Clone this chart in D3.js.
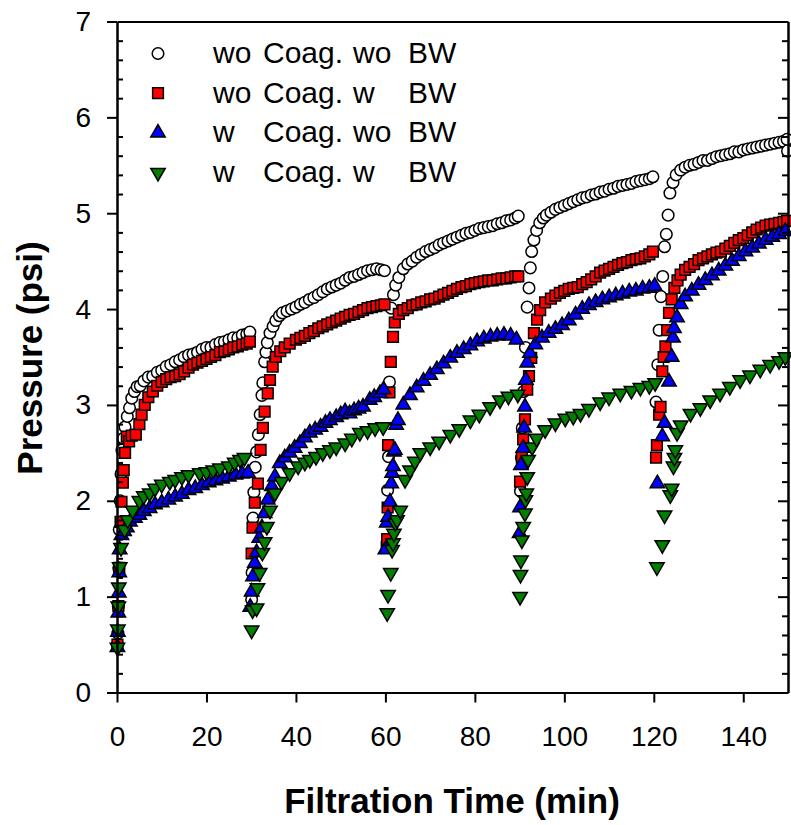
<!DOCTYPE html>
<html>
<head>
<meta charset="utf-8">
<script src="https://cdn.jsdelivr.net/npm/d3@7"></script>
<style>
body { margin: 0; background: #fff; }
text { font-family: "Liberation Sans", Arial, sans-serif; }
</style>
</head>
<body>
<svg id="chart" width="791" height="825"></svg>
<script>
// [time (min), pressure (psi)]
var woCoagWoBW = [
  [0.1,0.5],[0.2,0.62],[0.3,0.9],[0.4,1.3],[0.5,1.7],[0.7,2.0],[0.9,2.28],[1.1,2.53],[1.4,2.65],[1.8,2.77],[2.3,2.88],[2.8,2.97],[3.3,3.07],[3.9,3.14],[4.5,3.19],[5.2,3.2],[6,3.25],[7,3.29],[8,3.3],[9,3.34],[10,3.36],[11,3.4],[12,3.42],[13,3.45],[14,3.47],[15,3.5],[16,3.52],[17,3.53],[18,3.55],[19,3.58],[20,3.6],[21,3.6],[22,3.63],[23,3.65],[24,3.66],[25,3.68],[26,3.7],[27,3.7],[28,3.73],[29,3.74],[29.7,3.76],
  [30.1,0.97],[30.2,1.25],[30.4,1.82],[30.6,2.09],[30.9,2.35],[31.2,2.51],[31.6,2.69],[32,2.9],[32.4,3.1],[32.6,3.23],[33,3.45],[33.3,3.55],[33.6,3.65],[34.2,3.75],[34.9,3.82],[35.5,3.88],[36.3,3.93],[37,3.96],[38,3.98],[39,4.0],[40,4.02],[41,4.05],[42,4.07],[43,4.1],[44,4.12],[45,4.15],[46,4.18],[47,4.21],[48,4.23],[49,4.25],[50,4.27],[51,4.3],[52,4.33],[53,4.34],[54,4.36],[55,4.38],[56,4.4],[57,4.41],[58,4.42],[59,4.41],[59.8,4.4],
  [60.5,2.11],[60.7,2.46],[60.9,3.24],[61.3,4.01],[61.8,4.15],[62.3,4.25],[63,4.33],[64,4.42],[65,4.47],[66,4.5],[67,4.54],[68,4.57],[69,4.6],[70,4.62],[71,4.64],[72,4.67],[73,4.69],[74,4.71],[75,4.73],[76,4.75],[77,4.77],[78,4.79],[79,4.8],[80,4.82],[81,4.84],[82,4.85],[83,4.86],[84,4.87],[85,4.89],[86,4.9],[87,4.92],[88,4.93],[89,4.95],[89.7,4.97],
  [90.2,2.1],[90.4,2.45],[90.6,2.76],[90.9,3.14],[91.3,3.6],[91.7,4.02],[92.1,4.22],[92.4,4.43],[92.7,4.6],[93.2,4.72],[93.8,4.82],[94.5,4.9],[95.3,4.95],[96,4.98],[97,5.01],[98,5.04],[99,5.06],[100,5.08],[101,5.1],[102,5.12],[103,5.14],[104,5.16],[105,5.17],[106,5.19],[107,5.2],[108,5.22],[109,5.23],[110,5.25],[111,5.26],[112,5.28],[113,5.29],[114,5.3],[115,5.31],[116,5.33],[117,5.34],[118,5.35],[119,5.36],[119.8,5.38],
  [120.5,3.03],[120.9,3.42],[121.2,3.78],[121.6,4.13],[122,4.34],[122.4,4.65],[122.8,4.78],[123.2,4.98],[123.6,5.21],[124.3,5.32],[125,5.4],[126,5.45],[127,5.48],[128,5.5],[129,5.51],[130,5.53],[131,5.55],[132,5.55],[133,5.57],[134,5.59],[135,5.6],[136,5.61],[137,5.62],[138,5.64],[139,5.64],[140,5.66],[141,5.67],[142,5.68],[143,5.69],[144,5.7],[145,5.71],[146,5.72],[147,5.73],[148,5.74],[149,5.75],[149.8,5.77],[149.9,5.65]
];

var woCoagWBW = [
  [0.1,0.5],[0.3,0.9],[0.5,1.3],[0.8,1.78],[1,1.99],[1.3,2.19],[1.5,2.32],[1.8,2.5],[2.2,2.67],[2.7,2.62],[3.3,2.68],[4.2,2.69],[5,2.8],[5.5,2.9],[6.2,3.0],[7,3.08],[8,3.14],[9,3.2],[10,3.24],[11,3.27],[12,3.29],[13,3.3],[14,3.32],[15,3.35],[16,3.39],[17,3.42],[18,3.44],[19,3.46],[20,3.48],[21,3.5],[22,3.52],[23,3.55],[24,3.56],[25,3.58],[26,3.6],[27,3.61],[28,3.63],[29,3.64],[29.7,3.66],
  [30.1,1.45],[30.3,1.72],[30.8,1.98],[31.5,2.18],[32.1,2.53],[32.6,2.76],[33,2.93],[33.7,3.12],[34.2,3.26],[34.8,3.4],[35.5,3.5],[36.5,3.56],[37.5,3.6],[38.6,3.64],[40,3.68],[41,3.7],[42,3.72],[43,3.75],[44,3.77],[45,3.8],[46,3.82],[47,3.84],[48,3.86],[49,3.88],[50,3.9],[51,3.92],[52,3.94],[53,3.95],[54,3.97],[55,3.99],[56,4.01],[57,4.02],[58,4.03],[59,4.04],[59.8,4.05],
  [60.3,1.52],[60.4,1.6],[60.5,1.93],[60.6,2.58],[60.9,3.13],[61.2,3.45],[61.7,3.71],[62.1,3.86],[63,3.95],[64,3.99],[65,4.01],[66,4.04],[67,4.05],[68,4.07],[69,4.08],[70,4.1],[71,4.11],[72,4.13],[73,4.15],[74,4.17],[75,4.19],[76,4.21],[77,4.23],[78,4.24],[79,4.26],[80,4.27],[81,4.28],[82,4.29],[83,4.3],[84,4.3],[85,4.31],[86,4.32],[87,4.32],[88,4.33],[89,4.34],[89.7,4.34],
  [90.1,2.2],[90.5,2.45],[90.8,2.64],[91.2,2.85],[91.7,3.16],[92.1,3.3],[92.6,3.49],[93.2,3.75],[93.9,3.89],[94.6,3.99],[95.7,4.07],[97,4.11],[98,4.14],[99,4.17],[100,4.19],[101,4.21],[102,4.22],[103,4.23],[104,4.26],[105,4.28],[106,4.31],[107,4.34],[108,4.38],[109,4.4],[110,4.42],[111,4.44],[112,4.46],[113,4.48],[114,4.49],[115,4.51],[116,4.52],[117,4.53],[118,4.55],[119,4.57],[119.8,4.6],
  [120.5,2.45],[120.7,2.58],[121.2,2.9],[121.5,2.98],[121.9,3.35],[122.2,3.5],[122.6,3.61],[123,3.78],[123.4,3.96],[124,4.1],[124.6,4.22],[125.3,4.3],[126,4.36],[127,4.41],[128,4.44],[129,4.47],[130,4.51],[131,4.53],[132,4.55],[133,4.57],[134,4.59],[135,4.6],[136,4.63],[137,4.66],[138,4.69],[139,4.72],[140,4.74],[141,4.77],[142,4.8],[143,4.83],[144,4.85],[145,4.87],[146,4.88],[147,4.89],[148,4.9],[149,4.91],[149.8,4.92]
];

var wCoagWoBW = [
  [0.1,0.47],[0.2,0.63],[0.3,0.83],[0.4,1.04],[0.5,1.25],[0.6,1.49],[1,1.64],[1.6,1.68],[2.2,1.72],[2.9,1.78],[4,1.82],[5,1.85],[6,1.89],[7.3,1.92],[8.5,1.96],[10,1.98],[11.5,2.01],[13,2.04],[14.5,2.07],[16,2.11],[17.5,2.13],[19,2.16],[20.5,2.19],[22,2.21],[23.5,2.23],[25,2.25],[26.5,2.27],[28,2.28],[29.3,2.29],
  [29.8,0.89],[30.1,1.05],[30.4,1.21],[30.8,1.35],[31.2,1.46],[31.8,1.61],[32.4,1.72],[33,1.87],[33.7,2.01],[34.6,2.15],[35.3,2.25],[36.4,2.39],[37.5,2.45],[38.6,2.5],[39.7,2.55],[40.9,2.6],[42,2.66],[43.1,2.71],[44.3,2.74],[45.5,2.77],[46.6,2.81],[47.6,2.84],[49,2.87],[50,2.9],[51,2.93],[52,2.91],[53,2.94],[54,2.96],[55,2.98],[56.5,3.05],[57.5,3.08],[58.8,3.12],[59.6,3.16],
  [60,1.49],[60.3,1.77],[60.6,1.83],[61,1.99],[61.3,2.18],[61.5,2.29],[61.7,2.36],[61.9,2.51],[62.1,2.53],[62.4,2.79],[62.8,2.84],[64,3.0],[65.5,3.1],[67,3.18],[68.5,3.25],[70,3.31],[71.5,3.37],[73,3.43],[74.5,3.49],[76,3.54],[77.5,3.58],[79,3.62],[80.5,3.66],[82,3.69],[83.5,3.71],[85,3.72],[86.5,3.73],[88,3.72],[89.3,3.68],
  [90,1.66],[90.1,1.93],[90.3,2.37],[90.8,2.55],[91,2.76],[91.2,2.98],[91.4,3.26],[91.7,3.44],[92.3,3.54],[93.5,3.63],[95,3.7],[96.5,3.75],[98,3.79],[99.5,3.83],[101,3.88],[102.5,3.94],[104,4.0],[105.5,4.04],[107,4.07],[108.5,4.1],[110,4.12],[111.5,4.14],[113,4.16],[114.5,4.18],[116,4.19],[117.5,4.21],[119,4.22],[120.2,4.24],
  [120.8,2.18],[121.9,2.67],[122.4,2.81],[123.4,3.24],[124,3.5],[124.3,3.7],[124.5,3.8],[125.2,3.91],[126,4.05],[127,4.13],[128.5,4.19],[130,4.25],[131.5,4.3],[133,4.35],[134.5,4.4],[136,4.45],[137.5,4.5],[139,4.55],[140.5,4.6],[142,4.64],[143.5,4.68],[145,4.72],[146.5,4.75],[148,4.78],[149.4,4.81]
];

var wCoagWBW = [
  [0.1,0.47],[0.2,0.66],[0.3,0.9],[0.4,1.1],[0.6,1.31],[0.9,1.51],[1.7,1.7],[2.4,1.8],[3.5,1.9],[5,2.0],[6,2.05],[7.3,2.08],[8.5,2.13],[10,2.17],[11.8,2.2],[13,2.22],[14.5,2.25],[16,2.27],[18.5,2.29],[20,2.3],[21.5,2.32],[23,2.34],[25,2.36],[26.3,2.4],[27.5,2.43],[28.5,2.45],
  [30.1,0.65],[30.3,0.86],[31.2,0.88],[31.4,1.09],[31.9,1.25],[32.5,1.46],[33,1.57],[33.5,1.73],[34.2,1.9],[35.3,2.08],[36.8,2.2],[38.6,2.29],[40.5,2.36],[42,2.4],[43.1,2.43],[44.5,2.46],[46,2.5],[47.6,2.53],[49,2.56],[51,2.6],[52.5,2.65],[54.3,2.71],[56,2.73],[57.7,2.76],[59.5,2.77],
  [60.4,0.83],[60.6,1.02],[61.2,1.25],[61.5,1.49],[61.7,1.56],[61.9,1.66],[62.2,1.77],[62.6,1.8],[63.3,1.9],[64.4,2.22],[65.5,2.32],[66.6,2.41],[67.8,2.5],[70,2.56],[72,2.62],[74.5,2.69],[76.5,2.75],[79,2.84],[81,2.9],[83.4,2.98],[85.6,3.05],[87.5,3.09],[89.6,3.11],
  [90.1,1.0],[90.2,1.23],[90.3,1.38],[90.5,1.59],[90.8,1.73],[91.2,1.87],[91.3,2.01],[91.5,2.08],[91.7,2.25],[91.9,2.43],[92.8,2.56],[93.8,2.65],[95.7,2.74],[98,2.81],[100.2,2.86],[102,2.88],[103.6,2.91],[105.5,2.96],[108,3.03],[110,3.08],[112.5,3.12],[115,3.15],[117,3.18],[119,3.2],[120.3,3.23],
  [120.7,1.31],[121.9,1.54],[122.4,1.85],[123.7,2.06],[124,2.13],[124.4,2.36],[124.6,2.45],[124.8,2.53],[125.2,2.71],[126,2.79],[128.2,2.91],[130.4,2.97],[132.6,3.05],[134.8,3.12],[137,3.19],[139.3,3.26],[141.5,3.31],[143.8,3.37],[146,3.42],[148,3.46],[149.4,3.5]
];

var legendWords = [
  ["wo", "Coag.", "wo", "BW"],
  ["wo", "Coag.", "w", "BW"],
  ["w", "Coag.", "wo", "BW"],
  ["w", "Coag.", "w", "BW"]
];
var xTicks = [0, 20, 40, 60, 80, 100, 120, 140];
var yTicks = [0, 1, 2, 3, 4, 5, 6, 7];

var svg = d3.select("#chart");
var x = d3.scaleLinear().domain([0, 150]).range([117, 788]);
var y = d3.scaleLinear().domain([0, 7]).range([692.5, 21.5]);

var series = [
  { data: woCoagWoBW, shape: d3.symbolCircle, size: 105, fill: "white", rotate: 0 },
  { data: woCoagWBW, shape: d3.symbolSquare, size: 115, fill: "#ff0000", rotate: 0 },
  { data: wCoagWoBW, shape: d3.symbolTriangle, size: 90, fill: "#0000ff", rotate: 0 },
  { data: wCoagWBW, shape: d3.symbolTriangle, size: 90, fill: "#007f00", rotate: 180 }
];

series.forEach(function (s) {
  svg.append("g").selectAll("path")
    .data(s.data)
    .enter().append("path")
    .attr("d", d3.symbol().type(s.shape).size(s.size))
    .attr("transform", function (d) {
      return "translate(" + x(d[0]) + "," + y(d[1]) + ") rotate(" + s.rotate + ")";
    })
    .attr("fill", s.fill)
    .attr("stroke", "black")
    .attr("stroke-width", 1.5);
});

// axes
var minorY = d3.range(0, 7.001, 0.2).filter(function (v) { return Math.abs(v - Math.round(v)) > 0.01; });

svg.append("g")
  .attr("transform", "translate(117,0)")
  .call(d3.axisLeft(y).tickValues(yTicks).tickFormat(d3.format("d")).tickSize(10).tickSizeOuter(0).tickPadding(16));
svg.append("g")
  .attr("transform", "translate(117,0)")
  .call(d3.axisLeft(y).tickValues(minorY).tickSize(-6).tickSizeOuter(0).tickFormat(""));
svg.append("g")
  .attr("transform", "translate(788,0)")
  .call(d3.axisRight(y).tickValues(yTicks).tickSize(-10).tickSizeOuter(0).tickFormat(""));
svg.append("g")
  .attr("transform", "translate(788,0)")
  .call(d3.axisRight(y).tickValues(minorY).tickSize(-6).tickSizeOuter(0).tickFormat(""));
svg.append("g")
  .attr("transform", "translate(0,692.5)")
  .call(d3.axisBottom(x).tickValues(xTicks).tickFormat(d3.format("d")).tickSize(10).tickSizeOuter(0).tickPadding(24));
svg.append("g")
  .attr("transform", "translate(0,21.5)")
  .call(d3.axisTop(x).tickValues([]).tickSizeOuter(0));

svg.selectAll(".domain, .tick line").attr("stroke", "black").attr("stroke-width", 2);
svg.selectAll(".tick text")
  .attr("fill", "black")
  .style("font-size", "28px")
  .style("font-family", "'Liberation Sans', Arial, sans-serif");

// axis titles
svg.append("text")
  .attr("x", 452)
  .attr("y", 813)
  .attr("text-anchor", "middle")
  .style("font-size", "35px")
  .style("font-weight", "bold")
  .text("Filtration Time (min)");

svg.append("text")
  .attr("transform", "translate(42,358) rotate(-90)")
  .attr("text-anchor", "middle")
  .style("font-size", "35px")
  .style("font-weight", "bold")
  .text("Pressure (psi)");

// legend
var legendCols = [213, 263, 353, 408];
legendWords.forEach(function (words, i) {
  var s = series[i];
  var baseline = 63 + i * 39.7;
  svg.append("path")
    .attr("d", d3.symbol().type(s.shape).size(s.size))
    .attr("transform", "translate(158," + (baseline - 9.5) + ") rotate(" + s.rotate + ")")
    .attr("fill", s.fill)
    .attr("stroke", "black")
    .attr("stroke-width", 1.5);
  var t = svg.append("text").attr("y", baseline).style("font-size", "30px");
  words.forEach(function (w, j) {
    t.append("tspan").attr("x", legendCols[j]).text(w);
  });
});
</script>
</body>
</html>
